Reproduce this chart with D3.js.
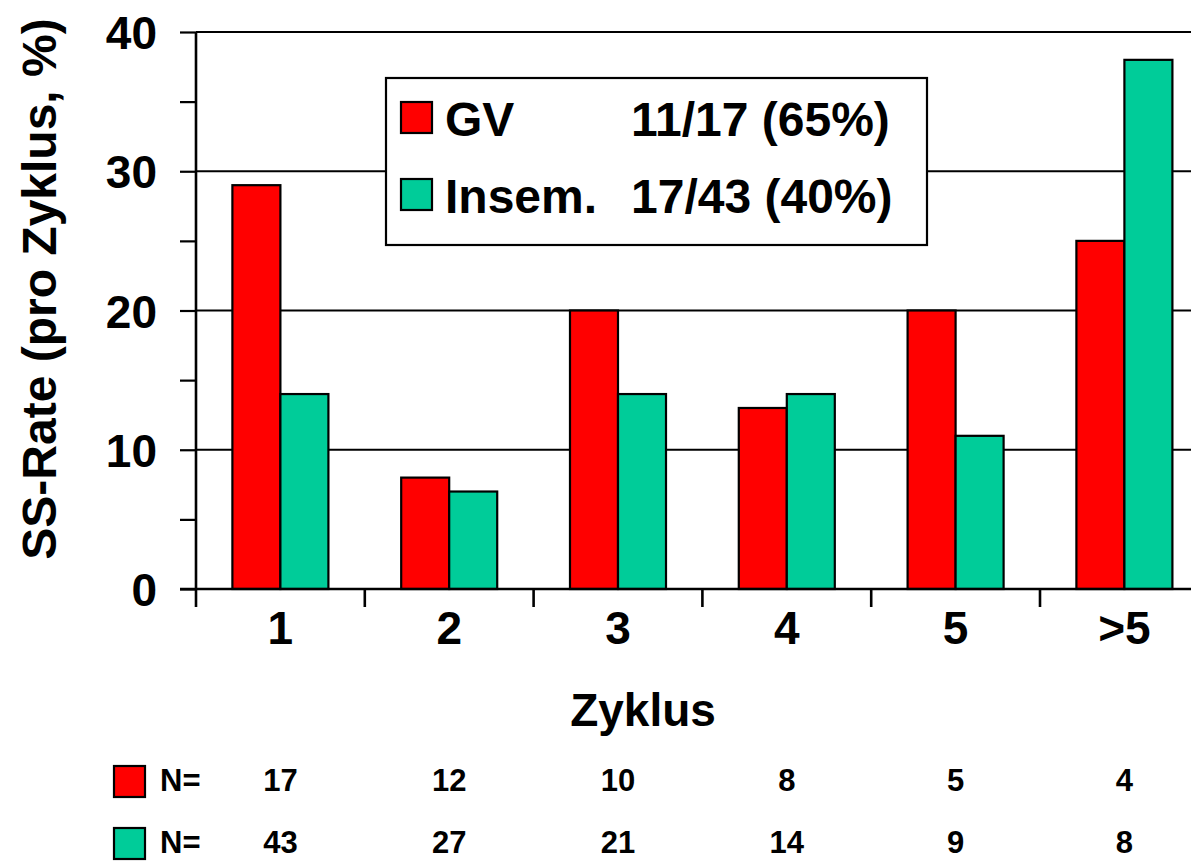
<!DOCTYPE html>
<html>
<head>
<meta charset="utf-8">
<script src="https://cdnjs.cloudflare.com/ajax/libs/d3/7.8.5/d3.min.js"></script>
<style>
  html, body { margin: 0; padding: 0; background: #fff; }
  svg { display: block; }
  text { font-family: "Liberation Sans", Arial, sans-serif; font-weight: bold; fill: #000; }
</style>
</head>
<body>
<div id="root"></div>
<script>
// data
var categories = ["1", "2", "3", "4", "5", ">5"];
var seriesNames = ["GV", "Insem."];
var seriesTotals = ["11/17 (65%)", "17/43 (40%)"];
var gvRates = [29, 8, 20, 13, 20, 25];
var insemRates = [14, 7, 14, 14, 11, 38];
var gvN = [17, 12, 10, 8, 5, 4];
var insemN = [43, 27, 21, 14, 9, 8];
var yTicks = [0, 10, 20, 30, 40];
var yMinorTicks = [5, 15, 25, 35];
var colors = ["#ff0000", "#00cc99"];

var width = 1191, height = 863;
var plotLeft = 196, plotBottom = 589, plotTop = 32;
var band = 168.8;

var svg = d3.select("#root").append("svg")
    .attr("width", width)
    .attr("height", height);

var x = d3.scaleBand()
    .domain(categories)
    .range([plotLeft, plotLeft + band * categories.length])
    .paddingInner(0).paddingOuter(0);

var xSub = d3.scaleBand()
    .domain(seriesNames)
    .range([0, x.bandwidth()])
    .paddingInner(0)
    .paddingOuter(0.758);

var y = d3.scaleLinear()
    .domain([0, 40])
    .range([plotBottom, plotTop]);

var series = [gvRates, insemRates];

// gridlines
svg.append("g")
    .selectAll("line")
    .data(yTicks.filter(function(d) { return d > 0; }))
    .enter().append("line")
    .attr("x1", plotLeft).attr("x2", width)
    .attr("y1", function(d) { return y(d); })
    .attr("y2", function(d) { return y(d); })
    .attr("stroke", "#000")
    .attr("stroke-width", 2.2);

// bars
var groups = svg.append("g").selectAll("g")
    .data(series)
    .enter().append("g")
    .attr("fill", function(d, i) { return colors[i]; });

groups.selectAll("rect")
    .data(function(d, i) {
        return d.map(function(v, j) { return {cat: categories[j], s: seriesNames[i], v: v}; });
    })
    .enter().append("rect")
    .attr("x", function(d) { return x(d.cat) + xSub(d.s); })
    .attr("width", xSub.bandwidth())
    .attr("y", function(d) { return y(d.v); })
    .attr("height", function(d) { return y(0) - y(d.v); })
    .attr("stroke", "#000")
    .attr("stroke-width", 2.2);

// y axis
var yAxis = svg.append("g")
    .attr("transform", "translate(" + plotLeft + ",0)")
    .call(d3.axisLeft(y).tickValues(yTicks).tickSize(16).tickFormat(d3.format("d")).tickPadding(23));
yAxis.select(".domain").attr("stroke-width", 2.6).attr("d", "M0," + y(40) + "V" + y(0));
yAxis.selectAll(".tick line").attr("stroke-width", 2.2);
yAxis.selectAll(".tick text")
    .attr("font-size", 46)
    .attr("font-family", "'Liberation Sans', Arial, sans-serif")
    .attr("font-weight", "bold")
    .attr("dy", "0.36em");

svg.append("g")
    .attr("transform", "translate(" + plotLeft + ",0)")
    .call(d3.axisLeft(y).tickValues(yMinorTicks).tickSize(16).tickFormat(""))
    .call(function(g) { g.select(".domain").remove(); })
    .selectAll(".tick line").attr("stroke-width", 2.2);

// x axis
svg.append("line")
    .attr("x1", plotLeft - 16).attr("x2", width)
    .attr("y1", plotBottom).attr("y2", plotBottom)
    .attr("stroke", "#000").attr("stroke-width", 2.6);

svg.append("g").selectAll("line")
    .data(categories)
    .enter().append("line")
    .attr("x1", function(d) { return x(d); })
    .attr("x2", function(d) { return x(d); })
    .attr("y1", plotBottom).attr("y2", plotBottom + 18)
    .attr("stroke", "#000").attr("stroke-width", 2.6);

svg.append("g").selectAll("text")
    .data(categories)
    .enter().append("text")
    .attr("x", function(d) { return x(d) + x.bandwidth() / 2; })
    .attr("y", 644)
    .attr("text-anchor", "middle")
    .attr("font-size", 46)
    .text(function(d) { return d; });

// axis titles
svg.append("text")
    .attr("x", 643).attr("y", 726)
    .attr("text-anchor", "middle")
    .attr("font-size", 46)
    .text("Zyklus");

svg.append("text")
    .attr("transform", "translate(56,289) rotate(-90)")
    .attr("text-anchor", "middle")
    .attr("font-size", 48)
    .text("SS-Rate (pro Zyklus, %)");

// legend
var legend = svg.append("g");
legend.append("rect")
    .attr("x", 386).attr("y", 78)
    .attr("width", 541).attr("height", 167)
    .attr("fill", "#fff")
    .attr("stroke", "#000").attr("stroke-width", 2.2);

var items = legend.selectAll("g.item")
    .data(seriesNames)
    .enter().append("g")
    .attr("class", "item")
    .attr("transform", function(d, i) { return "translate(0," + (i * 77) + ")"; });

items.append("rect")
    .attr("x", 401).attr("y", 102)
    .attr("width", 31).attr("height", 31)
    .attr("fill", function(d, i) { return colors[i]; })
    .attr("stroke", "#000").attr("stroke-width", 2.2);

items.append("text")
    .attr("x", 445).attr("y", 136)
    .attr("font-size", 48)
    .text(function(d) { return d; });

items.append("text")
    .attr("x", 631).attr("y", 136)
    .attr("font-size", 48)
    .text(function(d, i) { return seriesTotals[i]; });

// N table
var rows = svg.append("g").selectAll("g")
    .data([gvN, insemN])
    .enter().append("g")
    .attr("transform", function(d, i) { return "translate(0," + (i * 62) + ")"; });

rows.append("rect")
    .attr("x", 114).attr("y", 766)
    .attr("width", 31).attr("height", 31)
    .attr("fill", function(d, i) { return colors[i]; })
    .attr("stroke", "#000").attr("stroke-width", 2.2);

rows.append("text")
    .attr("x", 160).attr("y", 791)
    .attr("font-size", 31)
    .text("N=");

rows.selectAll("text.n")
    .data(function(d) { return d; })
    .enter().append("text")
    .attr("class", "n")
    .attr("x", function(d, j) { return x(categories[j]) + x.bandwidth() / 2; })
    .attr("y", 791)
    .attr("text-anchor", "middle")
    .attr("font-size", 31)
    .text(function(d) { return d; });
</script>
</body>
</html>
